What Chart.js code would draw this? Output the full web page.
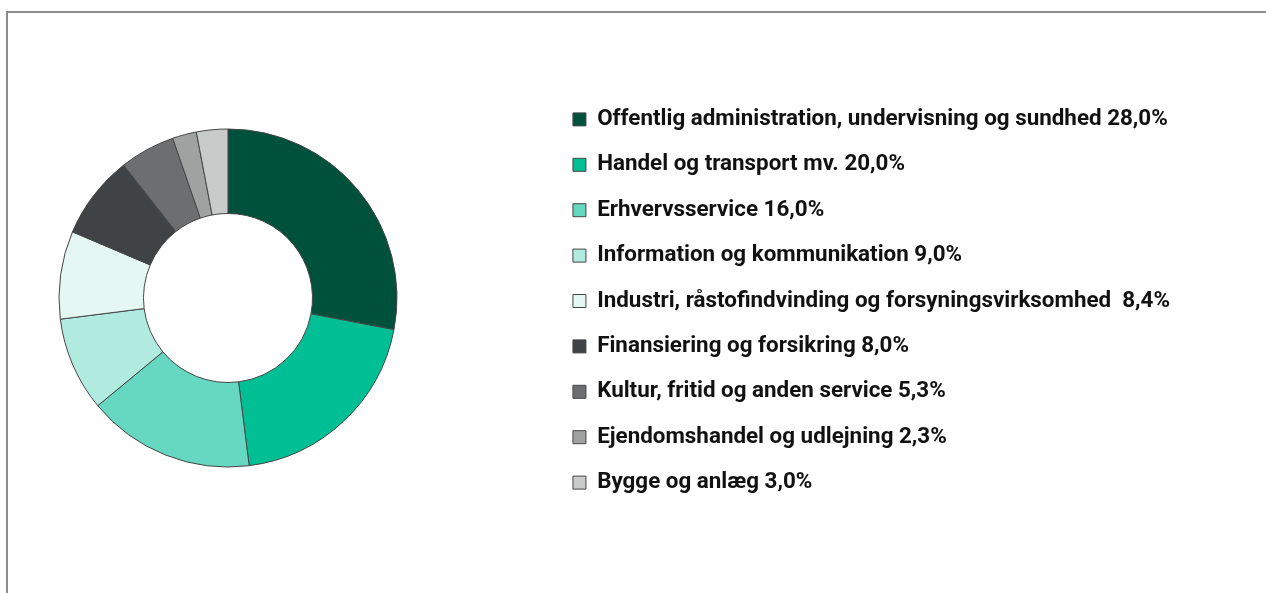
<!DOCTYPE html>
<html>
<head>
<meta charset="utf-8">
<script src="https://cdn.jsdelivr.net/npm/chart.js@4/dist/chart.umd.min.js"></script>
<style>
    html, body { margin: 0; padding: 0; background: #fff; overflow: hidden; }
    body { width: 1266px; height: 593px; position: relative; }
    .frame {
        position: absolute; left: 6px; top: 11px; width: 1300px; height: 620px;
        border-top: 2px solid #8c8c8c; border-left: 2px solid #8c8c8c;
    }
    .wrap { position: absolute; left: -94px; top: 18px; width: 1274px; height: 560px; }
</style>
</head>
<body>
<div class="frame"></div>
<div class="wrap"><canvas id="chart"></canvas></div>
<script>
// Sektorer og andele (%)
const sectors = [
    'Offentlig administration, undervisning og sundhed 28,0%',
    'Handel og transport mv. 20,0%',
    'Erhvervsservice 16,0%',
    'Information og kommunikation 9,0%',
    'Industri, råstofindvinding og forsyningsvirksomhed  8,4%',
    'Finansiering og forsikring 8,0%',
    'Kultur, fritid og anden service 5,3%',
    'Ejendomshandel og udlejning 2,3%',
    'Bygge og anlæg 3,0%'
];
const shares = [28.0, 20.0, 16.0, 9.0, 8.4, 8.0, 5.3, 2.3, 3.0];
const sliceColors = [
    '#00513b', '#00bf95', '#66d7c0', '#b1ebe0', '#e5f7f2',
    '#404346', '#6d6e70', '#a0a2a1', '#c9cbca'
];

const ctx = document.getElementById('chart').getContext('2d');

new Chart(ctx, {
    type: 'doughnut',
    data: {
        labels: sectors,
        datasets: [{
            data: shares,
            backgroundColor: sliceColors,
            borderColor: '#454545',
            borderWidth: 1
        }]
    },
    options: {
        responsive: true,
        maintainAspectRatio: false,
        animation: false,
        events: [],
        radius: 169,
        cutout: '50%',
        layout: { padding: 0 },
        plugins: {
            tooltip: { enabled: false },
            legend: {
                position: 'right',
                align: 'center',
                // blank title only nudges the items a few px down
                title: { display: true, text: ' ', padding: 0, font: { size: 5 } },
                labels: {
                    boxWidth: 13,
                    boxHeight: 13,
                    padding: 23,
                    color: '#111',
                    font: {
                        family: "Roboto, 'Open Sans', sans-serif",
                        size: 22.4,
                        weight: 'bold'
                    }
                }
            }
        }
    }
});
</script>
</body>
</html>
